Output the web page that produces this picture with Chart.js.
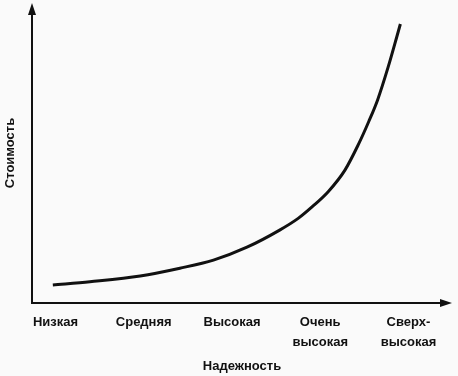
<!DOCTYPE html>
<html>
<head>
<meta charset="utf-8">
<script src="https://cdn.jsdelivr.net/npm/chart.js@4/dist/chart.umd.min.js"></script>
<style>
  html, body { margin: 0; padding: 0; background: #fafafa; }
  #wrap { width: 458px; height: 376px; position: relative; }
</style>
</head>
<body>
<div id="wrap"><canvas id="c" width="458" height="376"></canvas></div>
<script>
// Category tick labels (x axis)
const categories = [['Низкая'], ['Средняя'], ['Высокая'], ['Очень', 'высокая'], ['Сверх-', 'высокая']];
const categoryPositions = [0, 1, 2, 3, 4];
// Curve (x in category units, y in relative cost 0..100)
const curveX = [-0.03, 0.39, 0.96, 1.41, 1.79, 2.17, 2.54, 2.75, 2.91, 3.09, 3.28, 3.43, 3.55, 3.65, 3.77, 3.87, 3.908];
const curveY = [6.0, 7.1, 9.0, 11.6, 14.3, 18.6, 24.3, 28.2, 32.1, 37.1, 44.3, 52.7, 60.5, 67.7, 78.7, 89.0, 93.0];
const xTitle = 'Надежность';
const yTitle = 'Стоимость';

const FONT = '"Liberation Sans", Arial, sans-serif';
const INK = '#111111';

const arrowAxes = {
  id: 'arrowAxes',
  afterDatasetsDraw(chart) {
    const {ctx, chartArea: a} = chart;
    ctx.save();
    ctx.strokeStyle = INK;
    ctx.fillStyle = INK;
    ctx.lineWidth = 2;
    // y axis
    ctx.beginPath();
    ctx.moveTo(a.left, a.bottom);
    ctx.lineTo(a.left, a.top + 10);
    ctx.stroke();
    ctx.beginPath();
    ctx.moveTo(a.left, a.top);
    ctx.lineTo(a.left - 4, a.top + 12);
    ctx.lineTo(a.left + 4, a.top + 12);
    ctx.closePath();
    ctx.fill();
    // x axis
    ctx.beginPath();
    ctx.moveTo(a.left - 1, a.bottom);
    ctx.lineTo(a.right - 10, a.bottom);
    ctx.stroke();
    ctx.beginPath();
    ctx.moveTo(a.right, a.bottom);
    ctx.lineTo(a.right - 12, a.bottom - 4);
    ctx.lineTo(a.right - 12, a.bottom + 4);
    ctx.closePath();
    ctx.fill();
    ctx.restore();
  }
};

new Chart(document.getElementById('c'), {
  type: 'line',
  data: {
    datasets: [{
      data: curveX.map((x, i) => ({x: x, y: curveY[i]})),
      borderColor: INK,
      borderWidth: 3,
      pointRadius: 0,
      cubicInterpolationMode: 'monotone',
      fill: false
    }]
  },
  options: {
    responsive: false,
    animation: false,
    layout: { padding: { top: 3, right: 6, left: 0, bottom: 0 } },
    plugins: { legend: { display: false }, tooltip: { enabled: false } },
    scales: {
      x: {
        type: 'linear',
        min: -0.266,
        max: 4.493,
        border: { display: false },
        grid: { display: false, drawTicks: false },
        afterBuildTicks(scale) { scale.ticks = categoryPositions.map(v => ({value: v})); },
        afterFit(scale) { scale.height = 73; },
        ticks: {
          autoSkip: false,
          maxRotation: 0,
          padding: 10,
          color: INK,
          font: { family: FONT, size: 13, weight: 'bold', lineHeight: 1.5 },
          callback: (v) => { const i = categoryPositions.indexOf(v); return i >= 0 ? categories[i] : ''; }
        },
        title: {
          display: true,
          text: xTitle,
          color: INK,
          font: { family: FONT, size: 13, weight: 'bold', lineHeight: 1.2 },
          padding: { top: 0, bottom: 2 }
        }
      },
      y: {
        type: 'linear',
        min: 0,
        max: 100,
        border: { display: false },
        grid: { display: false, drawTicks: false },
        ticks: { display: false },
        afterFit(scale) { scale.width = 32; },
        title: {
          display: true,
          text: yTitle,
          color: INK,
          font: { family: FONT, size: 13, weight: 'bold', lineHeight: 1.2 },
          padding: { top: 3, bottom: 0 }
        }
      }
    }
  },
  plugins: [arrowAxes]
});
</script>
</body>
</html>
